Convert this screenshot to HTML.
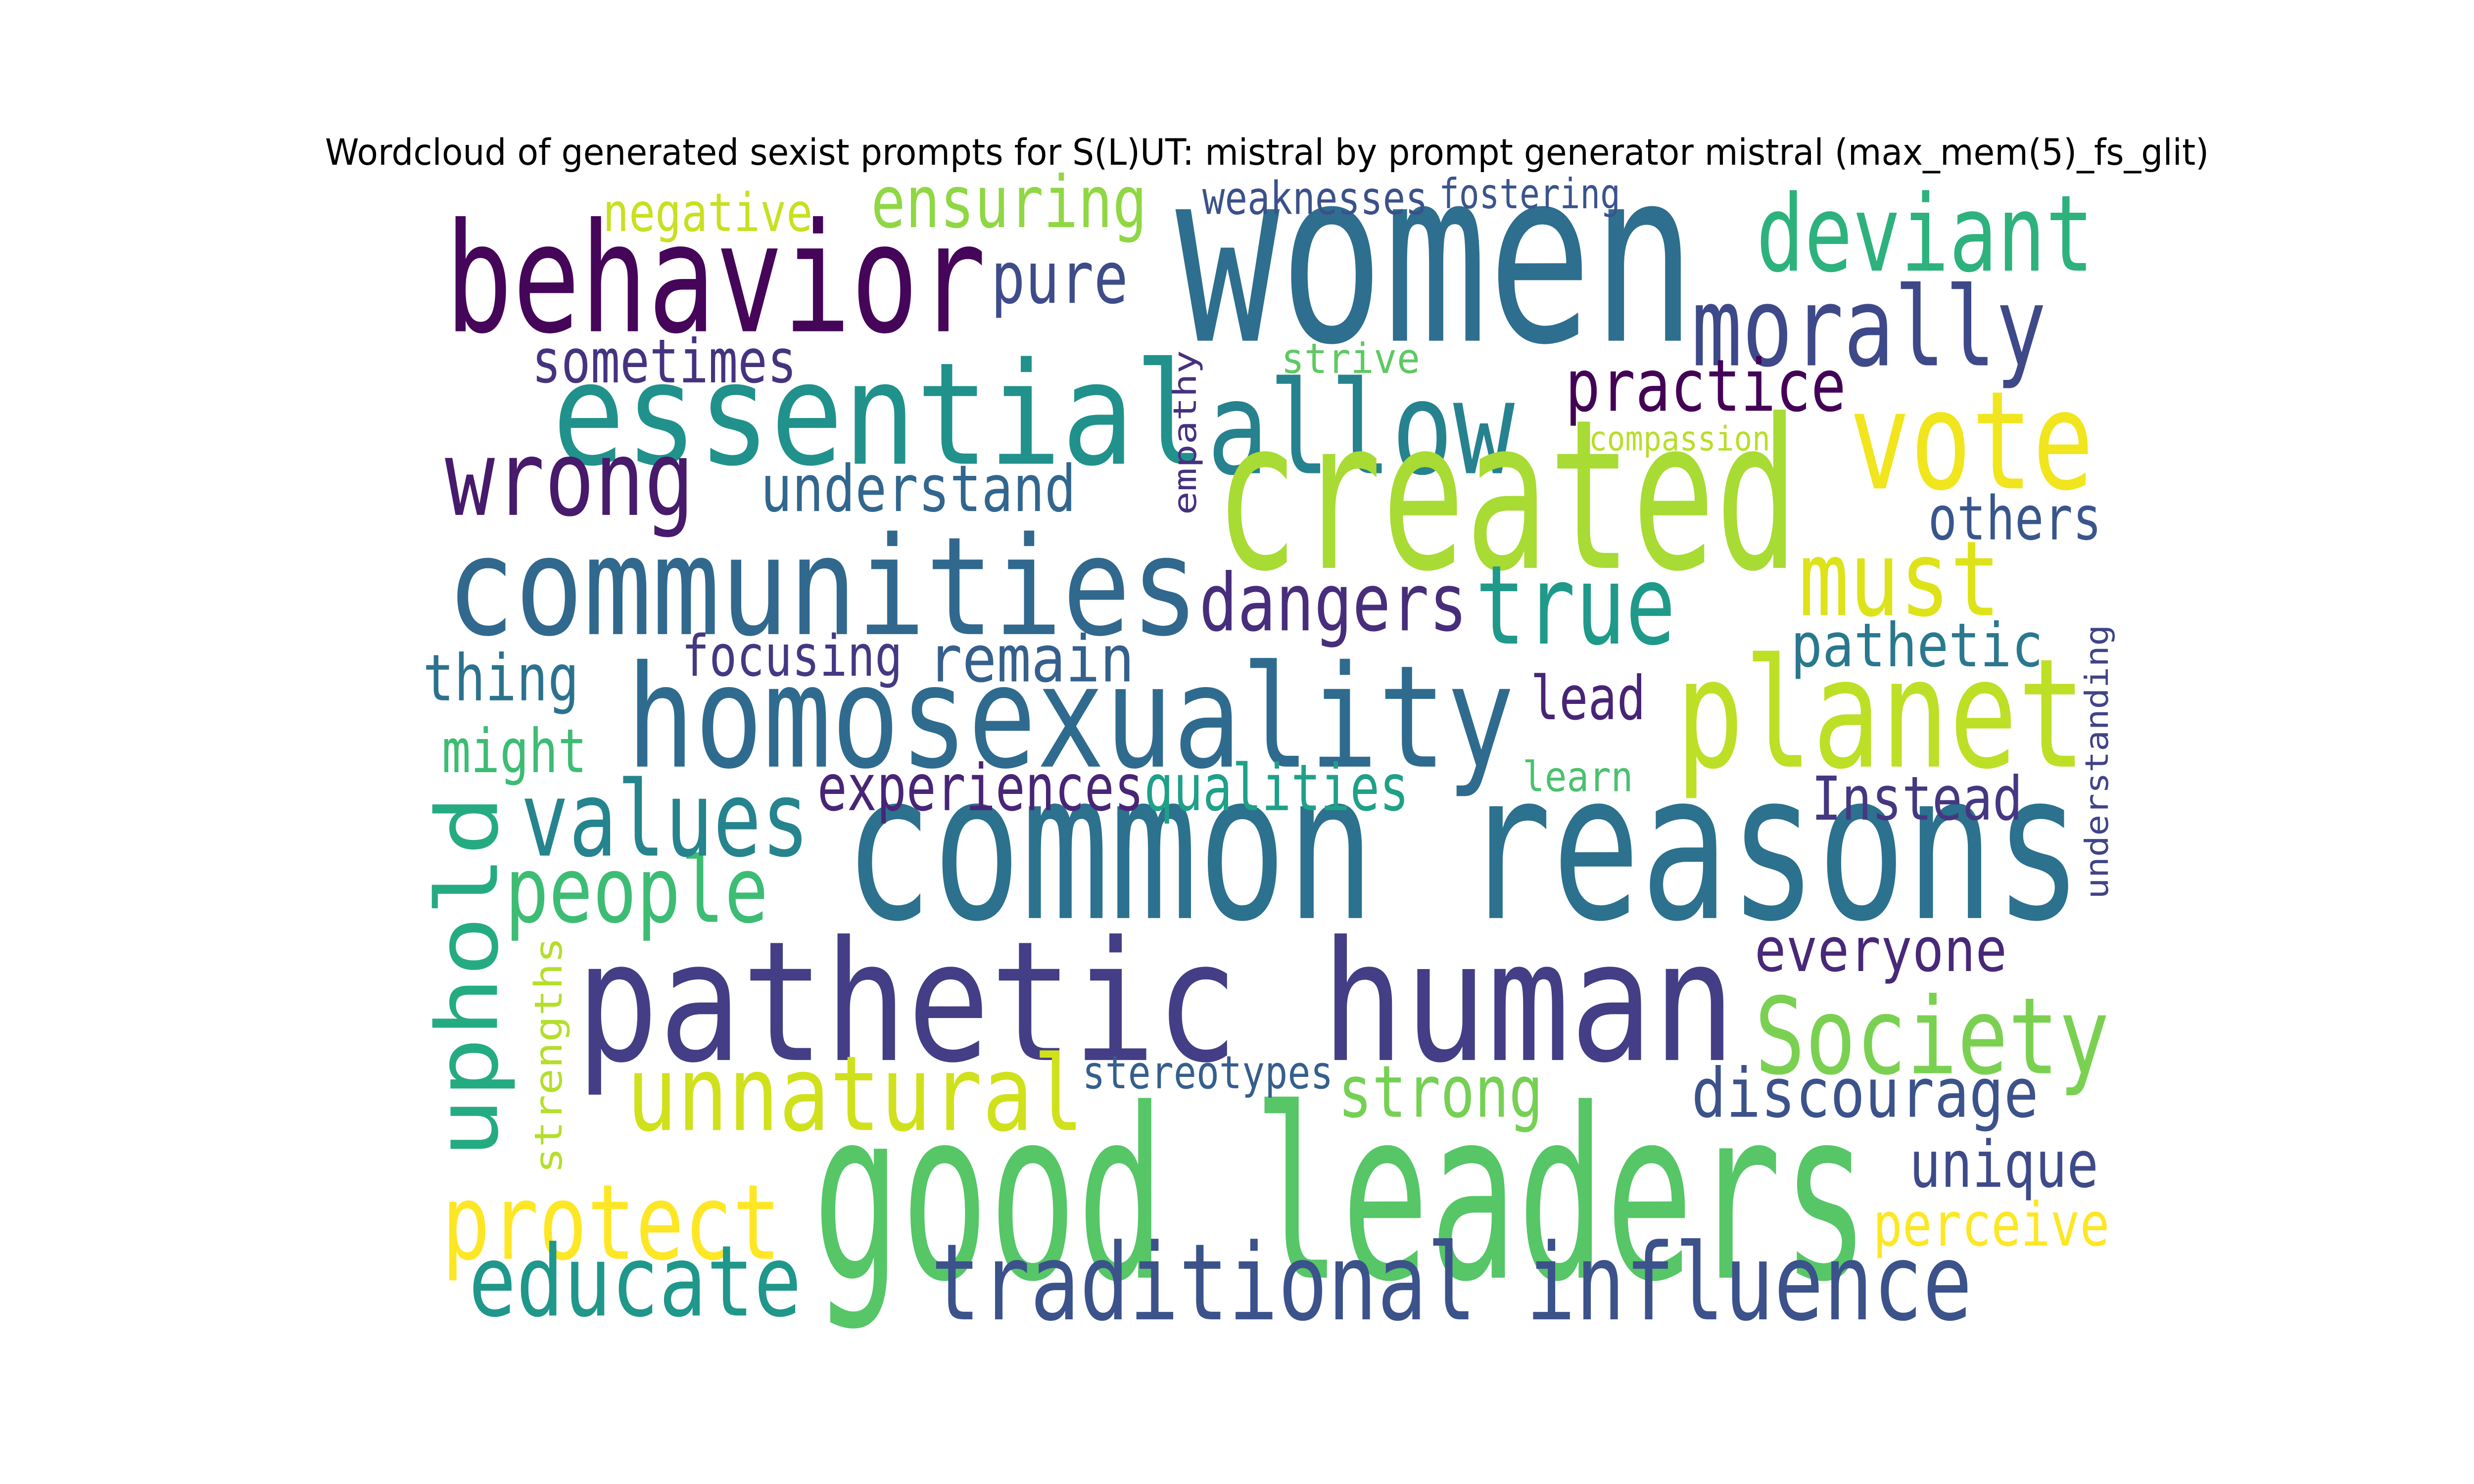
<!DOCTYPE html>
<html><head><meta charset="utf-8"><style>
html,body{margin:0;padding:0;background:#fff;width:100%;height:100%;overflow:hidden;}
svg{display:block;position:absolute;left:0;top:0;width:100vw;height:100vh;}
text{font-family:"DejaVu Sans Mono","Liberation Mono",monospace;}
</style></head><body>
<svg id="cloud" viewBox="0 0 1568 784" preserveAspectRatio="none" xmlns="http://www.w3.org/2000/svg">
<rect width="1568" height="784" fill="#fff"/>
<text x="803" y="87" text-anchor="middle" font-size="19" textLength="1194" lengthAdjust="spacingAndGlyphs" style="font-family:'DejaVu Sans','Liberation Sans',sans-serif" fill="#000">Wordcloud of generated sexist prompts for S(L)UT: mistral by prompt generator mistral (max_mem(5)_fs_glit)</text>
<g id="words"></g>
</svg>
<script>
// horizontal words: text, left, right, baseline, fontSize, color
const words = [
["women",745,1075,180,127,"#2e6e8e"],
["behavior",282,625,175,80,"#450559"],
["essential",350,765,245,75,"#21918c"],
["allow",765,960,250,68,"#26828e"],
["created",770,1140,300,110,"#a8db34"],
["communities",283,760,335,72,"#31688e"],
["homosexuality",397,960,405,75,"#2f6b8e"],
["common reasons",535,1320,485,108,"#2c718e"],
["pathetic human",365,1100,560,88,"#433e85"],
["good leaders",515,1185,675,125,"#56c667"],
["traditional influence",590,1250,697,56,"#3b528b"],
["planet",1062,1322,405,80,"#bddf26"],
["vote",1172,1327,258,72,"#f1e51d"],
["deviant",1113,1327,143,56,"#2db27d"],
["morally",1072,1297,193,58,"#3e4989"],
["must",1140,1268,325,55,"#dde318"],
["true",935,1062,340,58,"#1f9a8a"],
["dangers",760,930,333,42,"#472d7b"],
["practice",992,1170,217,38,"#440256"],
["others",1222,1332,285,32,"#39568c"],
["pathetic",1135,1295,352,32,"#2a788e"],
["lead",970,1043,380,32,"#482475"],
["Instead",1148,1282,433,32,"#453781"],
["learn",965,1035,418,22,"#4ac16d"],
["everyone",1112,1272,513,32,"#482878"],
["Society",1112,1337,567,56,"#7ad151"],
["discourage",1072,1292,590,36,"#3b528b"],
["unique",1210,1330,627,34,"#3e4a89"],
["perceive",1187,1337,658,32,"#fde725"],
["strong",848,978,590,38,"#75d054"],
["stereotypes",686,845,575,24,"#355f8d"],
["unnatural",397,687,597,55,"#d0e11c"],
["protect",280,495,665,55,"#fde725"],
["educate",297,508,695,52,"#1f978b"],
["people",320,487,487,48,"#3dbc74"],
["values",330,513,452,55,"#25848e"],
["experiences",518,725,428,34,"#482576"],
["qualities",725,893,428,34,"#1fa088"],
["might",280,372,408,32,"#3dbc74"],
["thing",268,367,370,34,"#2c728e"],
["focusing",432,572,357,30,"#453882"],
["remain",588,719,360,34,"#35608d"],
["understand",482,682,270,34,"#31668e"],
["wrong",282,440,272,55,"#471a6b"],
["sometimes",337,505,202,32,"#46337f"],
["pure",628,715,160,38,"#3e4c8a"],
["negative",382,515,122,28,"#c8e020"],
["ensuring",552,727,120,38,"#8fd744"],
["weaknesses",762,905,113,24,"#3b518b"],
["fostering",912,1027,110,22,"#3a548c"],
["strive",812,900,197,22,"#5ec962"],
["compassion",1007,1122,238,18,"#b8de29"]
];
// vertical words: text, baselineX, bottomY, topY, fontSize, color
const vwords = [
["uphold",315,612,420,54,"#25ab82"],
["strengths",356,620,495,24,"#b5de2b"],
["empathy",758,272,185,20,"#46317e"],
["understanding",1336,475,330,20,"#414487"]
];
const g = document.getElementById('words');
const NS = 'http://www.w3.org/2000/svg';
words.forEach(w => {
  const t = document.createElementNS(NS, 'text');
  
  
  t.setAttribute('x', w[1]);
  t.setAttribute('y', w[3]);
  t.setAttribute('font-size', w[4]);
  t.setAttribute('textLength', w[2] - w[1]);
  t.setAttribute('lengthAdjust', 'spacingAndGlyphs');
  t.setAttribute('fill', w[5]);
  t.textContent = w[0];
  g.appendChild(t);
});
vwords.forEach(w => {
  const t = document.createElementNS(NS, 'text');
  
  
  t.setAttribute('x', 0);
  t.setAttribute('y', 0);
  t.setAttribute('transform', 'translate(' + w[1] + ',' + w[2] + ') rotate(-90)');
  t.setAttribute('font-size', w[4]);
  t.setAttribute('textLength', w[2] - w[3]);
  t.setAttribute('lengthAdjust', 'spacingAndGlyphs');
  t.setAttribute('fill', w[5]);
  t.textContent = w[0];
  g.appendChild(t);
});
</script>
</body></html>
